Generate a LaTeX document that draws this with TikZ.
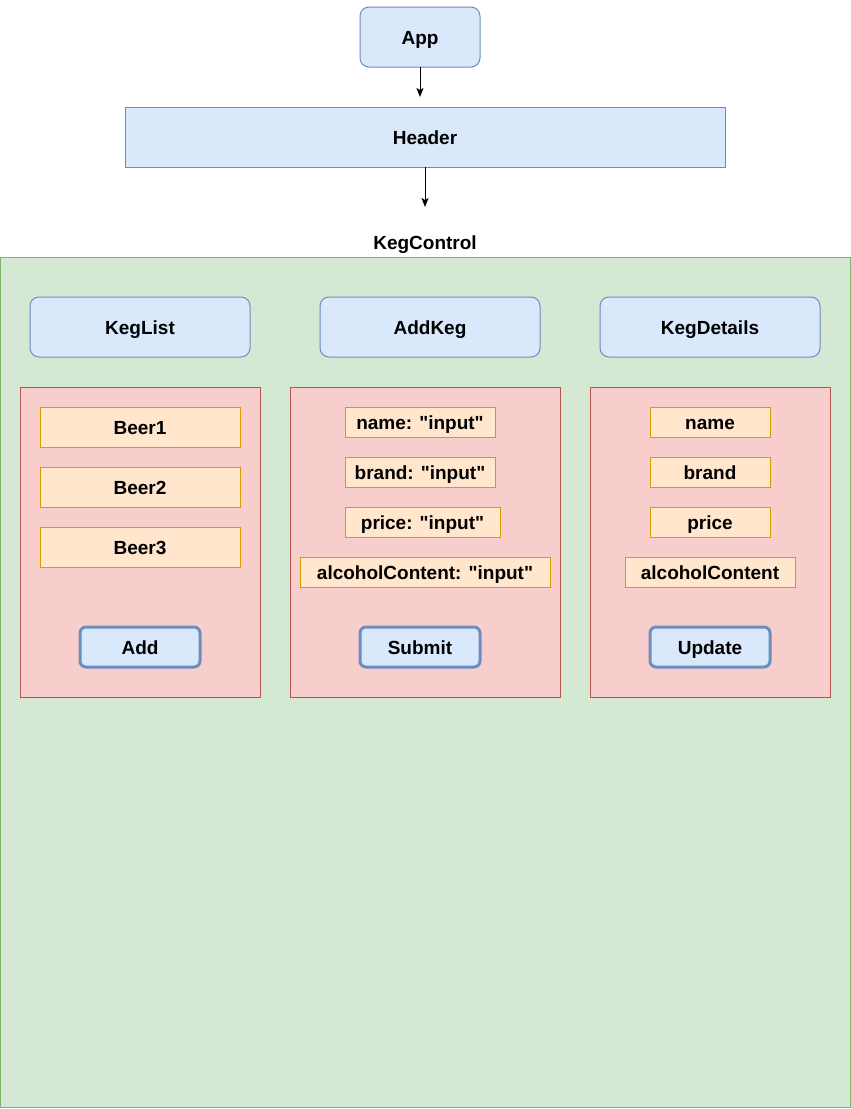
\documentclass[tikz,border=0pt]{standalone}
\usepackage{fontspec}
\setmainfont{Liberation Sans}
\usetikzlibrary{arrows.meta}

\definecolor{blueFill}{HTML}{DAE8FC}
\definecolor{blueLine}{HTML}{6C8EBF}
\definecolor{greenFill}{HTML}{D5E8D4}
\definecolor{greenLine}{HTML}{82B366}
\definecolor{redFill}{HTML}{F8CECC}
\definecolor{redLine}{HTML}{B85450}
\definecolor{orangeFill}{HTML}{FFE6CC}
\definecolor{orangeLine}{HTML}{D79B00}

% straight double quote
\newcommand{\sq}{\textquotedbl}

\tikzset{
  base/.style={font=\fontsize{19}{22}\selectfont\bfseries, inner sep=0pt,
    outer sep=0pt, line width=1pt, align=center, text=black,
    text height=15.5pt, text depth=0pt},
  comp/.style={base, draw=blueLine, fill=blueFill, rounded corners=9pt},
  bar/.style={base, draw=blueLine, fill=blueFill},
  container/.style={base, draw=greenLine, fill=greenFill},
  panel/.style={base, draw=redLine, fill=redFill},
  field/.style={base, draw=orangeLine, fill=orangeFill},
  button/.style={base, draw=blueLine, fill=blueFill, line width=3pt,
    rounded corners=6pt},
  caption/.style={base},
  link/.style={-{Stealth[length=9pt,width=7pt,inset=2pt]}, line width=1pt, black},
  sz/.style 2 args={minimum width=#1pt, minimum height=#2pt}
}

\begin{document}
\begin{tikzpicture}[x=1pt,y=-1pt]
  \useasboundingbox (0,0) rectangle (851,1109);

  % top-level components
  \node[comp, sz={120}{60}] (app) at (420,37) {App};
  \node[bar, sz={600}{60}] (header) at (425,137) {Header};
  \coordinate (appEnd) at (420,97);
  \coordinate (headerEnd) at (425,207);
  \draw[link] (app.south) -- (appEnd);
  \draw[link] (header.south) -- (headerEnd);

  % KegControl container
  \node[caption] (kegcontrolLabel) at (425,242) {KegControl};
  \node[container, sz={850}{850}] (kegcontrol) at (425,682) {};

  % child components
  \node[comp, sz={220}{60}] (keglist) at (140,327) {KegList};
  \node[comp, sz={220}{60}] (addkeg) at (430,327) {AddKeg};
  \node[comp, sz={220}{60}] (kegdetails) at (710,327) {KegDetails};

  % panels
  \node[panel, sz={240}{310}] (listPanel) at (140,542) {};
  \node[panel, sz={270}{310}] (addPanel) at (425,542) {};
  \node[panel, sz={240}{310}] (detailsPanel) at (710,542) {};

  % KegList contents
  \node[field, sz={200}{40}] (beer1) at (140,427) {Beer1};
  \node[field, sz={200}{40}] (beer2) at (140,487) {Beer2};
  \node[field, sz={200}{40}] (beer3) at (140,547) {Beer3};
  \node[button, sz={120}{40}] (addBtn) at (140,647) {Add};

  % AddKeg contents
  \node[field, sz={150}{30}] (inName) at (420,422) {name: \sq input\sq};
  \node[field, sz={150}{30}] (inBrand) at (420,472) {brand: \sq input\sq};
  \node[field, sz={155}{30}] (inPrice) at (422.5,522) {price: \sq input\sq};
  \node[field, sz={250}{30}] (inAlcohol) at (425,572) {alcoholContent: \sq input\sq};
  \node[button, sz={120}{40}] (submitBtn) at (420,647) {Submit};

  % KegDetails contents
  \node[field, sz={120}{30}] (dName) at (710,422) {name};
  \node[field, sz={120}{30}] (dBrand) at (710,472) {brand};
  \node[field, sz={120}{30}] (dPrice) at (710,522) {price};
  \node[field, sz={170}{30}] (dAlcohol) at (710,572) {alcoholContent};
  \node[button, sz={120}{40}] (updateBtn) at (710,647) {Update};
\end{tikzpicture}
\end{document}
